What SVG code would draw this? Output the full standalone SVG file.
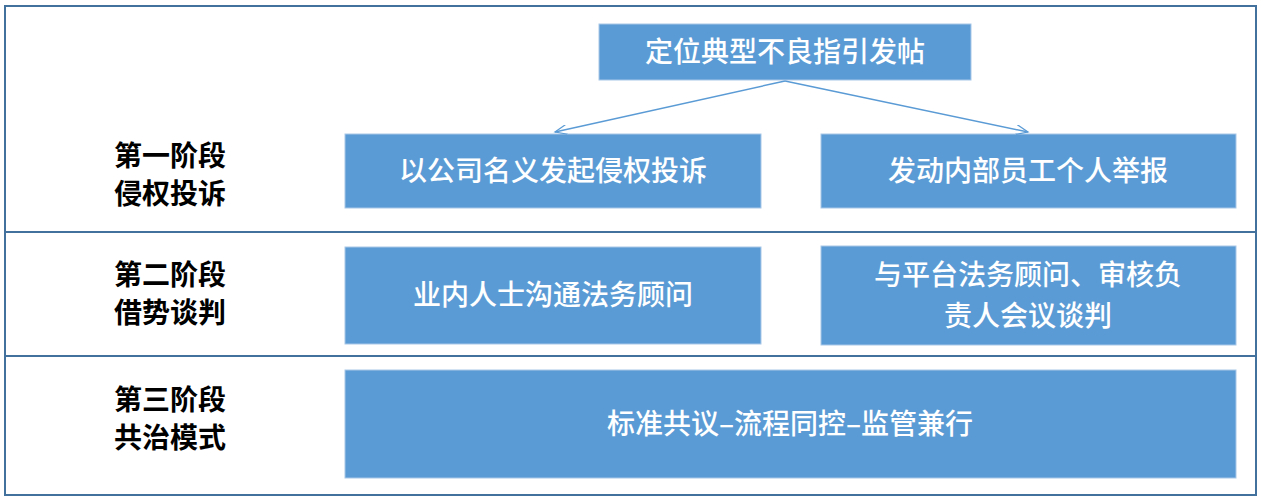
<svg xmlns="http://www.w3.org/2000/svg" width="1263" height="501" viewBox="0 0 1263 501">
<style>
.box{fill:#5b9bd5;stroke:#a9c8e8;stroke-width:1}
.t{font-family:"Noto Sans CJK SC",sans-serif;font-size:28px;fill:#fff;font-weight:500;text-anchor:middle}
.s{font-family:"Noto Sans CJK SC",sans-serif;font-size:28px;fill:#000;font-weight:bold;text-anchor:middle}
.ln{stroke:#41719c;stroke-width:2;fill:none}
</style>
<defs><marker id="a" markerWidth="14" markerHeight="10" refX="12" refY="5" orient="auto" markerUnits="userSpaceOnUse"><path d="M0,0 L12,5 L0,10" fill="none" stroke="#5b9bd5" stroke-width="1.2"/></marker></defs>
<rect x="0" y="0" width="1263" height="501" fill="#fff"/>
<g id="frame">
<rect x="5" y="6" width="1251" height="489" class="ln"/>
<line x1="5" y1="232" x2="1256" y2="232" class="ln"/>
<line x1="5" y1="356" x2="1256" y2="356" class="ln"/>
</g>
<g id="stage1"><text class="s" x="170" y="166">第一阶段</text><text class="s" x="170" y="204">侵权投诉</text></g>
<g id="stage2"><text class="s" x="170" y="285">第二阶段</text><text class="s" x="170" y="323">借势谈判</text></g>
<g id="stage3"><text class="s" x="170" y="410">第三阶段</text><text class="s" x="170" y="448">共治模式</text></g>
<g id="n0"><rect class="box" x="599" y="24" width="372" height="56"/><text class="t" x="785" y="62">定位典型不良指引发帖</text></g>
<g id="n1"><rect class="box" x="345" y="134" width="416" height="74"/><text class="t" x="553" y="181">以公司名义发起侵权投诉</text></g>
<g id="n2"><rect class="box" x="821" y="134" width="415" height="74"/><text class="t" x="1028" y="181">发动内部员工个人举报</text></g>
<g id="n3"><rect class="box" x="345" y="247" width="416" height="97"/><text class="t" x="553" y="305">业内人士沟通法务顾问</text></g>
<g id="n4"><rect class="box" x="821" y="246" width="415" height="99"/><text class="t" x="1028" y="285">与平台法务顾问、审核负</text><text class="t" x="1028" y="326">责人会议谈判</text></g>
<g id="n5"><rect class="box" x="345" y="370" width="891" height="108"/><text class="t" x="790" y="434">标准共议–流程同控–监管兼行</text></g>
<g id="connectors">
<line x1="785" y1="81" x2="555" y2="132" stroke="#5b9bd5" stroke-width="1.5" marker-end="url(#a)"/>
<line x1="785" y1="81" x2="1028" y2="132" stroke="#5b9bd5" stroke-width="1.5" marker-end="url(#a)"/>
</g>
</svg>
